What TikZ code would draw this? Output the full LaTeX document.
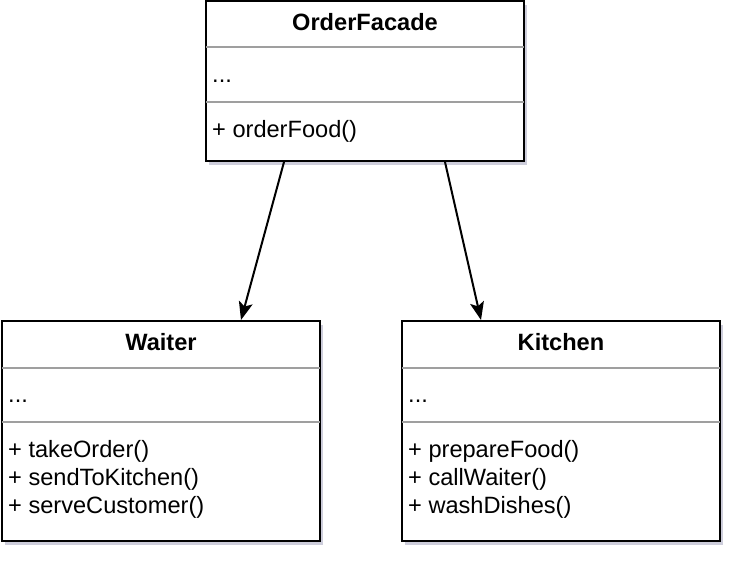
\documentclass[tikz,border=0pt]{standalone}
\usepackage{fontspec}
\setmainfont{Liberation Sans}
\usetikzlibrary{arrows.meta,shadows,calc}
\begin{document}
\begin{tikzpicture}[x=1pt,y=-1pt,
  classbox/.style={draw=black,line width=2pt,fill=white,rectangle,minimum width=318pt,minimum height=160pt,inner sep=0pt,
    drop shadow={shadow xshift=3pt,shadow yshift=-4pt,opacity=0.3,fill=black!40!blue!30!gray}},
  classbig/.style={classbox,minimum height=220pt},
  sep/.style={draw=gray!75,line width=1.5pt},
  title/.style={font=\fontsize{23.6}{28}\selectfont\bfseries,inner sep=0pt},
  body/.style={font=\fontsize{23.6}{28}\selectfont,inner sep=0pt,anchor=west,align=left},
  assoc/.style={draw=black,line width=2pt,-{Stealth[length=18pt,width=14pt,inset=4pt]}}
]
\useasboundingbox (0,0) rectangle (744,564);
% OrderFacade
\node[classbox] (of) at (365,81) {};
\draw[sep] ($(of.north west)+(1,47)$) -- ($(of.north east)+(-1,47)$);
\draw[sep] ($(of.north west)+(1,102)$) -- ($(of.north east)+(-1,102)$);
\node[title] (oft) at (365,22) {OrderFacade};
\node[body] (ofa) at (212,81) {...};
\node[body] (ofm) at (212,131) {+ orderFood()};
% Waiter
\node[classbig] (w) at (161,431) {};
\draw[sep] ($(w.north west)+(1,48)$) -- ($(w.north east)+(-1,48)$);
\draw[sep] ($(w.north west)+(1,102)$) -- ($(w.north east)+(-1,102)$);
\node[title] (wt) at (161,342) {Waiter};
\node[body] (wa) at (8,401) {...};
\node[body] (wm) at (8,479) {+ takeOrder()\\+ sendToKitchen()\\+ serveCustomer()};
% Kitchen
\node[classbig] (k) at (561,431) {};
\draw[sep] ($(k.north west)+(1,48)$) -- ($(k.north east)+(-1,48)$);
\draw[sep] ($(k.north west)+(1,102)$) -- ($(k.north east)+(-1,102)$);
\node[title] (kt) at (561,342) {Kitchen};
\node[body] (ka) at (408,401) {...};
\node[body] (km) at (408,479) {+ prepareFood()\\+ callWaiter()\\+ washDishes()};
% connectors
\coordinate (s1) at ($(of.south west)+(79,0)$);
\coordinate (e1) at ($(w.north west)+(240,0)$);
\coordinate (s2) at ($(of.south west)+(240,0)$);
\coordinate (e2) at ($(k.north west)+(80,0)$);
\draw[assoc] (s1) -- (e1);
\draw[assoc] (s2) -- (e2);
\end{tikzpicture}
\end{document}
